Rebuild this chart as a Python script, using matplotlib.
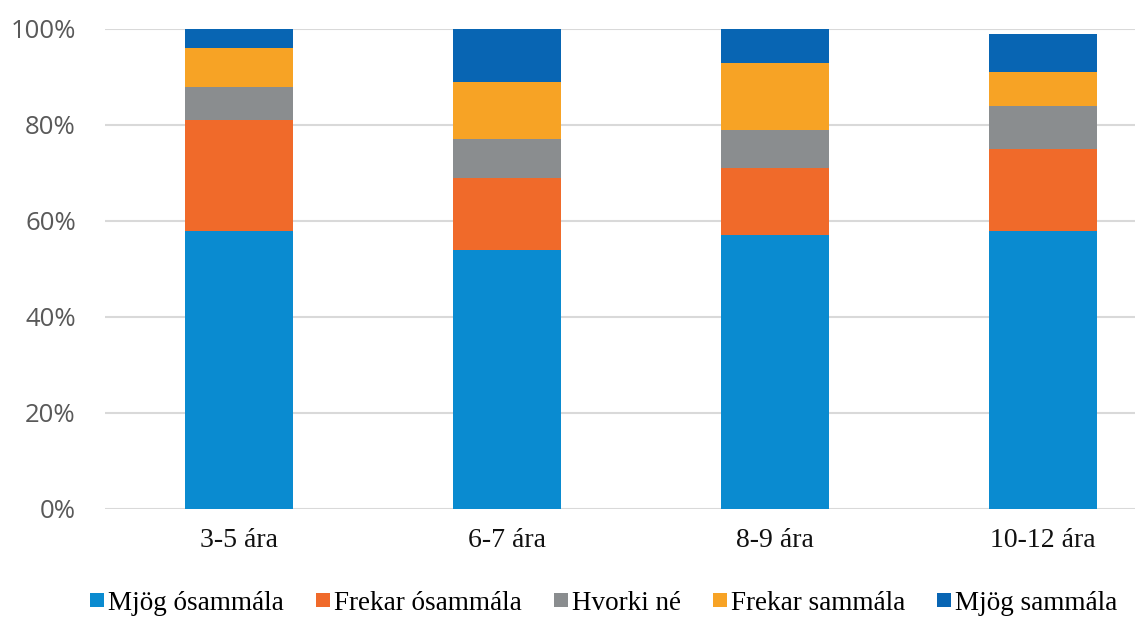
import matplotlib
matplotlib.use("Agg")
import matplotlib.pyplot as plt
from matplotlib.patches import Patch
import numpy as np

categories = ["3-5 ára", "6-7 ára", "8-9 ára", "10-12 ára"]
series_names = ["Mjög ósammála", "Frekar ósammála", "Hvorki né", "Frekar sammála", "Mjög sammála"]
mjog_osammala = [58, 54, 57, 58]
frekar_osammala = [23, 15, 14, 17]
hvorki_ne = [7, 8, 8, 9]
frekar_sammala = [8, 12, 14, 7]
mjog_sammala = [4, 11, 7, 8]
colors = ["#0a8bd0", "#f06a2a", "#8a8d8f", "#f7a325", "#0865b3"]

series = [mjog_osammala, frekar_osammala, hvorki_ne, frekar_sammala, mjog_sammala]

fig = plt.figure(figsize=(11.35, 6.17), dpi=100)
ax = fig.add_axes([105/1135, (617-509)/617, (1135-105)/1135, (509-29)/617])

x = np.arange(len(categories))
bottom = np.zeros(len(categories))
for name, vals, c in zip(series_names, series, colors):
    ax.bar(x, vals, width=0.4, bottom=bottom, color=c, label=name, zorder=3)
    bottom += np.array(vals)

ax.set_ylim(0, 100)
ax.set_xlim(-0.5, (1135-105)/268 - 0.5)
ax.set_yticks([0, 20, 40, 60, 80, 100])
ax.set_yticklabels([f"{v}%" for v in [0, 20, 40, 60, 80, 100]],
                   fontfamily="Open Sans", fontsize=18.5, color="#595959")
ax.set_xticks(x)
ax.set_xticklabels(categories, fontfamily="Liberation Serif", fontsize=20, color="#111111")
ax.tick_params(axis="both", length=0)
ax.tick_params(axis="y", pad=21)
ax.tick_params(axis="x", pad=14)
ax.yaxis.grid(True, color="#d9d9d9", linewidth=1.5, zorder=0)
for s in ax.spines.values():
    s.set_visible(False)

handles = [Patch(facecolor=c, label=n) for n, c in zip(series_names, colors)]
fig.legend(handles=handles, loc="center", bbox_to_anchor=(0.532, 1 - 603/617), ncol=5,
           frameon=False, prop={"family": "Liberation Serif", "size": 19.5},
           handlelength=0.5, handleheight=0.45, handletextpad=0.15, columnspacing=1.2)

fig.savefig("out.png", dpi=100, facecolor="white")
